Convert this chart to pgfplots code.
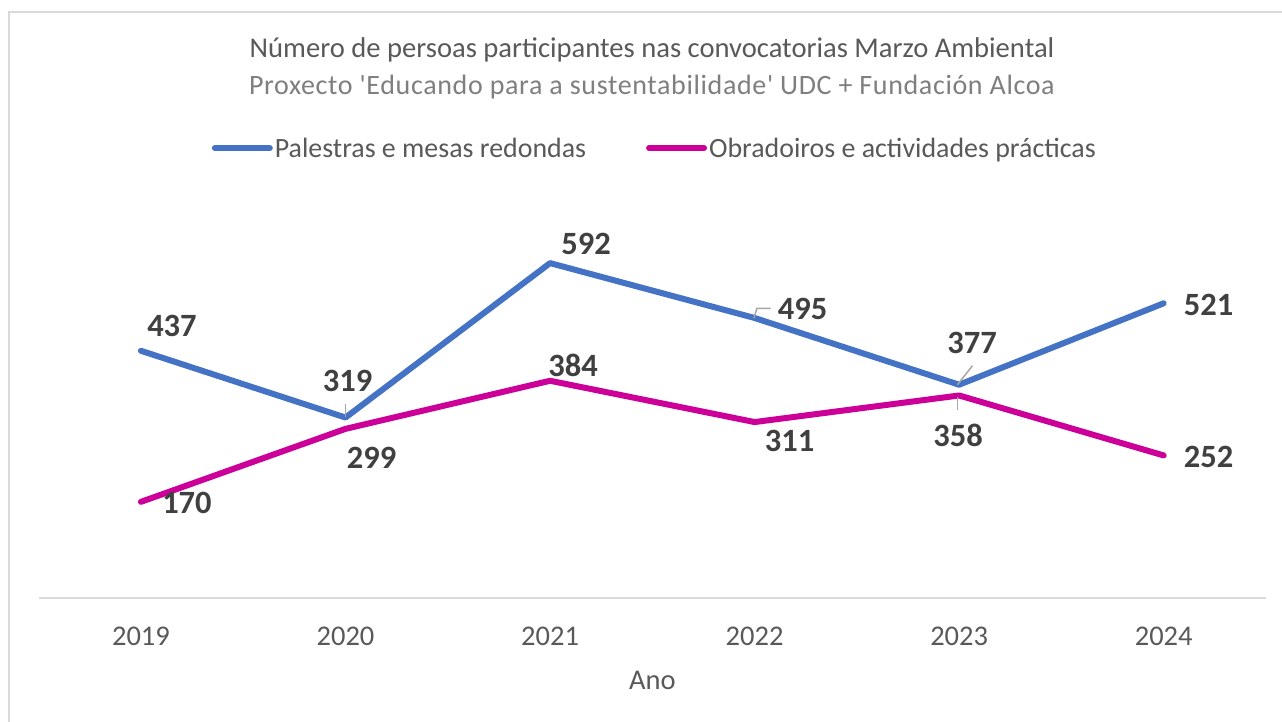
\documentclass[border=0pt]{standalone}
\usepackage{fontspec}
\setmainfont{Carlito}
\newfontfamily\subfont[LetterSpace=2.3]{Carlito}
\usepackage{pgfplots}
\pgfplotsset{compat=1.18}
\definecolor{bl}{HTML}{4472C4}
\definecolor{mg}{HTML}{CC0099}
\definecolor{txt}{HTML}{595959}
\definecolor{sub}{HTML}{7F7F7F}
\definecolor{lab}{HTML}{404040}
\definecolor{gridc}{HTML}{D9D9D9}
\definecolor{lead}{HTML}{A6A6A6}
\begin{document}
\begin{tikzpicture}[x=1pt,y=1pt,
  lbl/.style={color=lab, font=\bfseries\fontsize{32.5}{36}\selectfont, inner sep=0pt},
  ld/.style={lead, line width=1.5pt}]
\useasboundingbox (0,0) rectangle (1282,-722);
\fill[white] (0,0) rectangle (1282,-722);
\draw[gridc, line width=1.5pt] (9,-722) -- (9,-12) -- (1282,-12);
\node[txt, font=\fontsize{28.6}{32}\selectfont] at (652,-50) {Número de persoas participantes nas convocatorias Marzo Ambiental};
\node[sub, font=\subfont\fontsize{28}{32}\selectfont] at (652,-87.5) {Proxecto 'Educando para a sustentabilidade' UDC + Fundación Alcoa};
\begin{axis}[
  at={(38.7pt,-598pt)}, anchor=south west,
  scale only axis, width=1227.3pt, height=396pt,
  xmin=-0.5, xmax=5.5, ymin=0, ymax=700,
  axis y line=none,
  axis x line*=bottom,
  x axis line style={gridc, line width=1.5pt, -},
  xtick={0,1,2,3,4,5},
  xticklabels={2019,2020,2021,2022,2023,2024},
  major tick length=0pt,
  xticklabel style={anchor=center, yshift=-38pt, color=txt, font=\fontsize{28.5}{32}\selectfont},
  xlabel={Ano},
  xlabel style={at={(axis description cs:0.5,-0.207)}, anchor=center, color=txt, font=\fontsize{28.5}{32}\selectfont},
  legend columns=2,
  legend style={at={(0.502,1.136)}, anchor=center, draw=none, fill=none,
    text=txt, font=\fontsize{27.9}{32}\selectfont,
    /tikz/every even column/.append style={column sep=58pt}},
  legend image code/.code={\draw[#1, line cap=round] (0pt,0pt) -- (55pt,0pt);},
  clip=false,
]
\addplot[bl, line width=6pt, line join=round, line cap=round] coordinates {(0,437)(1,319)(2,592)(3,495)(4,377)(5,521)};
\addlegendentry{Palestras e mesas redondas}
\addplot[mg, line width=6pt, line join=round, line cap=round] coordinates {(0,170)(1,299)(2,384)(3,311)(4,358)(5,252)};
\addlegendentry{Obradoiros e actividades prácticas}

\draw[ld] ([shift={(0pt,1pt)}]axis cs:1,319) -- ([shift={(0pt,14pt)}]axis cs:1,319);
\draw[ld] ([shift={(-0.7pt,-0.3pt)}]axis cs:3,495) -- ([shift={(2.3pt,9.7pt)}]axis cs:3,495) -- ([shift={(16pt,9.7pt)}]axis cs:3,495);
\draw[ld] ([shift={(-1.7pt,0pt)}]axis cs:4,377) -- ([shift={(13.3pt,19pt)}]axis cs:4,377);
\draw[ld] ([shift={(-1.7pt,-2pt)}]axis cs:4,358) -- ([shift={(-1.7pt,-14.7pt)}]axis cs:4,358);

\node[lbl, xshift=31pt, yshift=25pt] at (axis cs:0,437) {437};
\node[lbl, xshift=2pt, yshift=37pt] at (axis cs:1,319) {319};
\node[lbl, xshift=36pt, yshift=19pt] at (axis cs:2,592) {592};
\node[lbl, xshift=48pt, yshift=9pt] at (axis cs:3,495) {495};
\node[lbl, xshift=13pt, yshift=42pt] at (axis cs:4,377) {377};
\node[lbl, xshift=45pt, yshift=-2pt] at (axis cs:5,521) {521};
\node[lbl, xshift=46pt, yshift=-1pt] at (axis cs:0,170) {170};
\node[lbl, xshift=26pt, yshift=-29pt] at (axis cs:1,299) {299};
\node[lbl, xshift=23pt, yshift=15pt] at (axis cs:2,384) {384};
\node[lbl, xshift=35pt, yshift=-19pt] at (axis cs:3,311) {311};
\node[lbl, xshift=-1pt, yshift=-40pt] at (axis cs:4,358) {358};
\node[lbl, xshift=45pt, yshift=-2pt] at (axis cs:5,252) {252};
\end{axis}
\end{tikzpicture}
\end{document}
